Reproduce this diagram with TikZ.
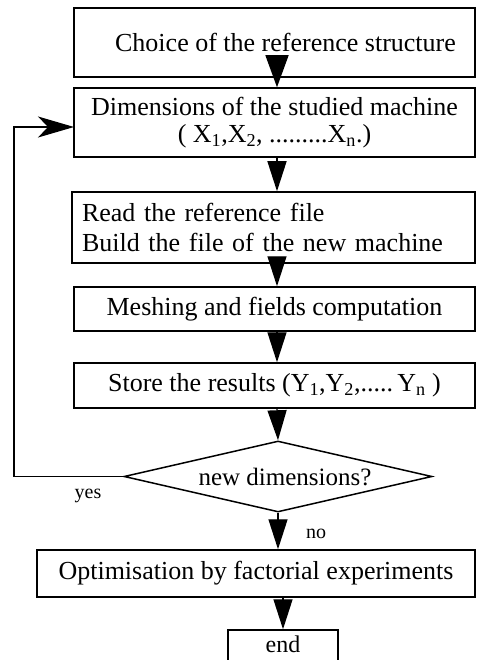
\documentclass[tikz,border=0pt]{standalone}
\usepackage{fontspec}
\setmainfont{Liberation Serif}
\usetikzlibrary{arrows.meta,positioning,shapes.geometric}

\begin{document}
\begin{tikzpicture}[x=1pt,y=-1pt,
      blk/.style={draw, line width=1.5pt, minimum width=401pt, inner sep=0pt, align=center,
                  font=\fontsize{26}{27}\selectfont},
      dec/.style={draw, diamond, aspect=4.34, line width=1.5pt, minimum width=308pt,
                  minimum height=71pt, inner sep=0pt, font=\fontsize{25}{27}\selectfont},
      arr/.style={-{Triangle[length=30pt,width=19pt]}, line width=1.4pt},
      back/.style={-{Stealth[length=36pt,width=21pt,inset=10pt]}, line width=1.6pt},
      lbl/.style={font=\fontsize{20}{22}\selectfont}]
    \useasboundingbox (0,0) rectangle (477,660);
    \clip (0,0) rectangle (477,660);
    \node[blk, minimum height=69pt] (choice) at (274.5,42.5) {\hspace*{22pt}Choice of the reference structure};
    \node[blk, minimum height=69pt] (dims) at (274.5,122.5) {Dimensions of the studied machine\\( X\textsubscript{1},X\textsubscript{2}, .........X\textsubscript{n}.)};
    \node[blk, minimum height=71pt, text width=383pt, inner xsep=10pt, align=left, font=\fontsize{26}{30}\selectfont] (read) at (273.5,227.5) {Read the reference file\\Build the file of the new machine};
    \node[blk, minimum height=44pt] (mesh) at (274.5,309) {Meshing and fields computation};
    \node[blk, minimum height=45pt] (store) at (274.5,385.5) {Store the results (Y\textsubscript{1},Y\textsubscript{2},.....\,Y\textsubscript{n} )};
    \node[dec] (newdim) at (278,476.5) {\hspace*{14pt}new dimensions?};
    \node[blk, minimum width=438pt, minimum height=47pt] (optim) at (256,573.5) {Optimisation by factorial experiments};
    \node[blk, minimum width=110pt, minimum height=34pt, font=\fontsize{24}{26}\selectfont] (end) at (283,647) {\raisebox{6pt}{end}};
    \node[lbl] (yes) at (88,496) {yes};
    \node[lbl] (no) at (316,534) {no};
    \coordinate (turn) at (14,476.5);
    \coordinate (entry) at (74,127);
    \draw[arr, -{Triangle[length=32pt,width=23pt]}] (choice.south -| 277,0) -- (dims.north -| 277,0);
    \draw[arr] (dims.south -| 277,0) -- (read.north -| 277,0);
    \draw[arr] (read.south -| 277,0) -- (mesh.north -| 277,0);
    \draw[arr] (mesh.south -| 277,0) -- (store.north -| 277,0);
    \draw[arr] (store.south -| 277,0) -- (newdim.north);
    \draw[arr] (newdim.south) -- (optim.north -| newdim.south);
    \draw[arr] (optim.south -| end.north) -- (end.north);
    \draw[back] (newdim.west) -- (turn) |- (entry);
\end{tikzpicture}
\end{document}
